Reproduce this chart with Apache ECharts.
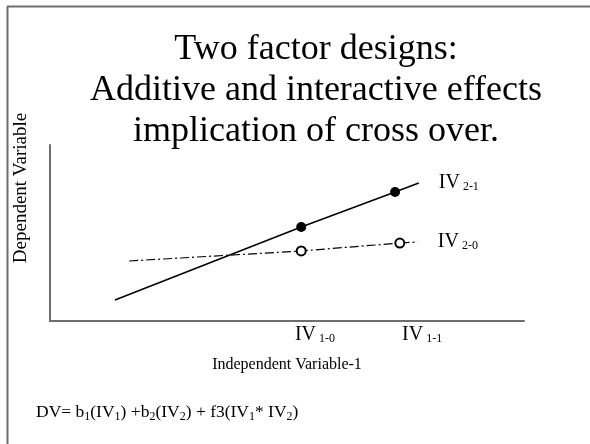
<!DOCTYPE html>
<html>
<head>
<meta charset="utf-8">
<script src="https://cdn.jsdelivr.net/npm/echarts@6/dist/echarts.min.js"></script>
<style>html,body{margin:0;padding:0;background:#fff}#c{width:590px;height:444px}</style>
</head>
<body>
<div id="c"></div>
<script>
// ---- data ----
const titleLines = ['Two factor designs:', 'Additive and interactive effects', 'implication of cross over.'];
const xAxisName = 'Independent Variable-1';
const yAxisName = 'Dependent Variable';
const xTickLabels = ['1-0', '1-1'];
const xTickValues = [55.9, 78.5];
const seriesNames = ['2-1', '2-0'];
const solidX = [13.7, 53.0, 72.8, 77.8];
const solidY = [11.9, 53.4, 73.3, 78.4];
const solidMarked = [false, true, true, false];
const dashX = [16.7, 53.0, 73.8, 77.6];
const dashY = [34.1, 39.8, 44.3, 44.9];
const dashMarked = [false, true, true, false];

const SERIF = '"Liberation Serif", "DejaVu Serif", serif';
const FRAME = '#6e6e6e';

function build(xs, ys, marks, sym) {
  return xs.map((x, i) => ({ value: [x, ys[i]], symbol: marks[i] ? sym : 'none' }));
}
function tickLabelFor(v) {
  let best = 0;
  xTickValues.forEach((t, i) => { if (Math.abs(t - v) < Math.abs(xTickValues[best] - v)) best = i; });
  return xTickLabels[best];
}
const subRich = {
  a: { fontFamily: SERIF, fontSize: 20, color: '#000', lineHeight: 20, padding: [0, 0, 5, 0], verticalAlign: 'top' },
  b: { fontFamily: SERIF, fontSize: 12, color: '#000', lineHeight: 13, verticalAlign: 'bottom' }
};

const chart = echarts.init(document.getElementById('c'), null, { renderer: 'canvas' });
chart.setOption({
  backgroundColor: '#fff',
  animation: false,
  title: {
    text: titleLines.join('\n'),
    left: 311, top: 24, textAlign: 'center',
    textStyle: { fontFamily: SERIF, fontSize: 36, fontWeight: 'normal', color: '#000', lineHeight: 41 }
  },
  grid: { left: 50, right: 66, top: 145, bottom: 123 },
  xAxis: {
    type: 'value', min: 0, max: 100,
    name: xAxisName, nameLocation: 'middle', nameGap: 36,
    nameTextStyle: { fontFamily: SERIF, fontSize: 16, color: '#000' },
    axisLine: { show: true, onZero: false, lineStyle: { color: FRAME, width: 2 } },
    axisTick: { show: false },
    splitLine: { show: false },
    axisLabel: {
      show: true, margin: 4, customValues: xTickValues,
      formatter: (v) => '{a|IV}{b| ' + tickLabelFor(v) + '}',
      rich: subRich
    }
  },
  yAxis: {
    type: 'value', min: 0, max: 100,
    axisLine: { show: true, onZero: false, lineStyle: { color: FRAME, width: 2 } },
    axisTick: { show: false }, axisLabel: { show: false }, splitLine: { show: false }
  },
  series: [
    {
      type: 'line', name: seriesNames[0],
      data: build(solidX, solidY, solidMarked, 'circle'),
      symbolSize: 10, showAllSymbol: true,
      lineStyle: { color: '#000', width: 1.5 },
      itemStyle: { color: '#000' },
      endLabel: { show: true, distance: 20, formatter: () => '{a|IV}{b| ' + seriesNames[0] + '}', rich: subRich }
    },
    {
      type: 'line', name: seriesNames[1],
      data: build(dashX, dashY, dashMarked, 'emptyCircle'),
      symbolSize: 9, showAllSymbol: true,
      lineStyle: { color: '#000', width: 1.2, type: [9, 3, 2, 3] },
      itemStyle: { color: '#000', borderColor: '#000', borderWidth: 1 },
      endLabel: { show: true, distance: 20, formatter: () => '{a|IV}{b| ' + seriesNames[1] + '}', rich: subRich }
    }
  ],
  graphic: [
    { type: 'line', shape: { x1: 7, y1: 6.5, x2: 590, y2: 6.5 }, style: { stroke: FRAME, lineWidth: 2 } },
    { type: 'line', shape: { x1: 7.5, y1: 6, x2: 7.5, y2: 444 }, style: { stroke: FRAME, lineWidth: 2 } },
    {
      type: 'text', x: 21, y: 188, rotation: Math.PI / 2,
      style: { text: yAxisName, font: '19px ' + SERIF, fill: '#000', align: 'center', verticalAlign: 'middle' }
    },
    {
      type: 'text', x: 36, y: 413,
      style: {
        text: '{n|DV= b}{s|1}{n|(IV}{s|1}{n|) +b}{s|2}{n|(IV}{s|2}{n|) + f3(IV}{s|1}{n|* IV}{s|2}{n|)}',
        verticalAlign: 'middle',
        rich: {
          n: { fontFamily: SERIF, fontSize: 17.5, lineHeight: 19, padding: [0, 0, 4, 0], verticalAlign: 'top', fill: '#000' },
          s: { fontFamily: SERIF, fontSize: 12, lineHeight: 12, verticalAlign: 'bottom', fill: '#000' }
        }
      }
    }
  ]
});
</script>
</body>
</html>
